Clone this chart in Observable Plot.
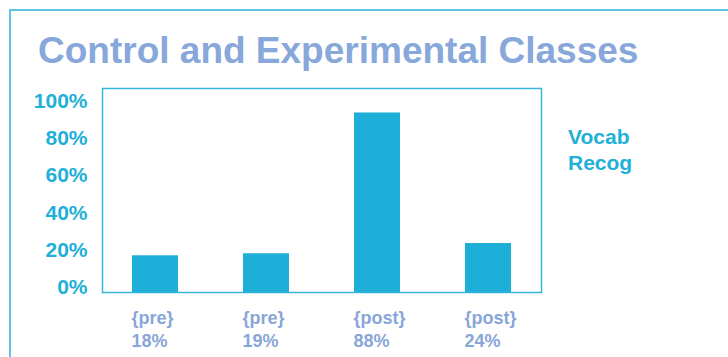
<!DOCTYPE html>
<html>
<head>
<meta charset="utf-8">
<script src="https://cdn.jsdelivr.net/npm/d3@7"></script>
<script src="https://cdn.jsdelivr.net/npm/@observablehq/plot@0.6"></script>
<style>
  html, body { margin: 0; padding: 0; background: #fff; width: 728px; height: 357px; overflow: hidden; }
  body { position: relative; font-family: "Liberation Sans", Arial, Helvetica, sans-serif; }
  #border { position: absolute; left: 9px; top: 9px; width: 800px; height: 400px;
            border-top: 2px solid #5cc6e4; border-left: 2px solid #5cc6e4; }
  #title { position: absolute; left: 38px; top: 32px; font-size: 37px; line-height: 37px;
           font-weight: bold; color: #88a8db; white-space: nowrap; }
  #legend { position: absolute; left: 568px; top: 124px; font-size: 21px; line-height: 26px;
            font-weight: bold; color: #1fb0d8; }
  #chart, #yaxis { position: absolute; left: 0; top: 0; }
</style>
</head>
<body>
<div id="border"></div>
<div id="chart"></div>
<div id="yaxis"></div>
<div id="title"></div>
<div id="legend"></div>
<script>
const title = "Control and Experimental Classes";
const seriesName = ["Vocab", "Recog"];
const groups = ["{pre}", "{pre}", "{post}", "{post}"];
const values = [18, 19, 88, 24];
const yTicks = [0, 20, 40, 60, 80, 100];

const data = values.map((v, i) => ({i, v}));

document.getElementById("title").textContent = title;
document.getElementById("legend").innerHTML = seriesName.join("<br>");

const font = "Liberation Sans, Arial, Helvetica, sans-serif";

const chart = Plot.plot({
  width: 728,
  height: 357,
  marginLeft: 102,
  marginRight: 187,
  marginTop: 88,
  marginBottom: 65,
  style: {fontFamily: font, background: "transparent", overflow: "visible"},
  x: {type: "band", domain: d3.range(groups.length), paddingInner: 0.586, paddingOuter: 0.266, axis: null},
  y: {domain: [0, 100], axis: null},
  marks: [
    Plot.barY(data, {x: "i", y: "v", fill: "#1eafd8"}),
    Plot.frame({stroke: "#36b6dc", strokeWidth: 1.5}),
    Plot.axisX({
      label: null,
      tickSize: 0,
      tickPadding: 16,
      tickFormat: i => `${groups[i]}\n${values[i]}%`,
      textAnchor: "start",
      dx: -24,
      lineHeight: 1.25,
      fontSize: 18,
      fontWeight: "bold",
      fill: "#88a6d9"
    })
  ]
});
document.getElementById("chart").appendChild(chart);

const yaxis = Plot.plot({
  width: 102,
  height: 357,
  marginLeft: 101,
  marginRight: 1,
  marginTop: 100.7,
  marginBottom: 70,
  style: {fontFamily: font, background: "transparent", overflow: "visible"},
  x: {axis: null},
  y: {domain: [0, 100], axis: null},
  marks: [
    Plot.axisY({
      label: null,
      ticks: yTicks,
      tickSize: 0,
      tickPadding: 14,
      tickFormat: d => d + "%",
      fontSize: 21,
      fontWeight: "bold",
      fill: "#1fb0d8"
    })
  ]
});
document.getElementById("yaxis").appendChild(yaxis);
</script>
</body>
</html>
